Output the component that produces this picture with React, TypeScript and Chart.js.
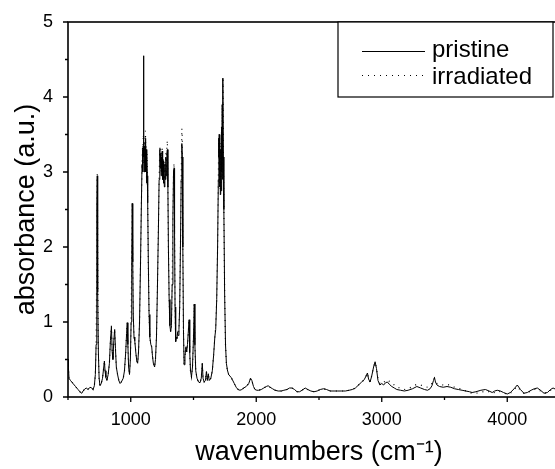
import React, { useEffect, useRef } from "react";
import { Chart, registerables } from "chart.js";

Chart.register(...registerables);

const wavenumbers = [
  500, 503, 508, 520, 540, 560, 580, 600, 610, 620,
  630, 645, 660, 675, 690, 700, 710, 718, 724, 728,
  731, 733, 735, 738, 742, 748, 755, 765, 775, 785,
  790, 795, 802, 810, 820, 830, 838, 846, 852, 858,
  865, 872, 878, 885, 895, 905, 915, 925, 940, 950,
  960, 967, 972, 977, 983, 990, 997, 1003, 1008, 1012,
  1016, 1020, 1026, 1032, 1040, 1048, 1055, 1062, 1070, 1078,
  1085, 1090, 1094, 1097, 1099, 1101, 1103, 1105, 1108, 1111,
  1114, 1117, 1120, 1123, 1126, 1129, 1132, 1135, 1140, 1146,
  1152, 1160, 1167, 1173, 1180, 1190, 1197, 1205, 1212, 1220,
  1226, 1230, 1233, 1236, 1239, 1242, 1245, 1248, 1251, 1254,
  1257, 1260, 1264, 1268, 1272, 1276, 1280, 1284, 1288, 1292,
  1296, 1300, 1306, 1312, 1318, 1324, 1330, 1336, 1341, 1345,
  1349, 1353, 1358, 1363, 1368, 1373, 1378, 1384, 1390, 1396,
  1402, 1407, 1411, 1415, 1420, 1425, 1432, 1440, 1446, 1452,
  1458, 1465, 1470, 1476, 1484, 1492, 1500, 1506, 1511, 1518,
  1528, 1540, 1552, 1562, 1570, 1576, 1585, 1595, 1603, 1610,
  1618, 1625, 1638, 1650, 1660, 1670, 1677, 1685, 1692, 1698,
  1701, 1703, 1705, 1708, 1711, 1714, 1717, 1720, 1723, 1726,
  1729, 1732, 1735, 1738, 1742, 1748, 1755, 1762, 1770, 1780,
  1790, 1800, 1810, 1825, 1840, 1855, 1870, 1885, 1900, 1920,
  1940, 1955, 1965, 1978, 1990, 2005, 2020, 2040, 2060, 2080,
  2095, 2110, 2130, 2150, 2175, 2200, 2220, 2245, 2265, 2285,
  2305, 2325, 2345, 2365, 2390, 2410, 2435, 2460, 2485, 2510,
  2535, 2560, 2590, 2620, 2650, 2680, 2710, 2740, 2765, 2790,
  2815, 2840, 2860, 2875, 2886, 2895, 2907, 2920, 2935, 2947,
  2958, 2970, 2985, 3000, 3015, 3030, 3045, 3060, 3080, 3100,
  3120, 3150, 3180, 3210, 3245, 3280, 3310, 3340, 3365, 3385,
  3400, 3412, 3420, 3428, 3440, 3460, 3490, 3520, 3550, 3580,
  3610, 3640, 3670, 3700, 3720, 3750, 3790, 3826, 3855, 3880,
  3900, 3920, 3945, 3970, 4000, 4025, 4055, 4080, 4105, 4133,
  4160, 4190, 4215, 4240, 4265, 4293, 4320, 4345, 4365, 4390,
  4420, 4450, 4480, 4500,
];

const pristine = [
  0.50, 0.40, 0.25, 0.22, 0.18, 0.14, 0.10, 0.06, 0.05, 0.08,
  0.10, 0.12, 0.10, 0.13, 0.12, 0.10, 0.15, 0.30, 0.70, 1.50,
  2.50, 2.95, 2.50, 1.40, 0.60, 0.25, 0.15, 0.18, 0.25, 0.40,
  0.48, 0.35, 0.26, 0.22, 0.30, 0.45, 0.75, 0.94, 0.60, 0.50,
  0.75, 0.90, 0.65, 0.40, 0.30, 0.22, 0.18, 0.20, 0.25, 0.35,
  0.60, 0.85, 0.99, 0.70, 0.40, 0.30, 0.50, 1.00, 1.90, 2.58,
  1.80, 1.10, 0.80, 0.75, 0.60, 0.48, 0.45, 0.60, 1.00, 1.80,
  2.60, 3.10, 3.30, 3.00, 3.35, 4.55, 3.20, 3.40, 3.00, 3.35,
  3.10, 3.45, 3.00, 3.30, 2.85, 3.20, 2.95, 2.60, 1.80, 1.10,
  0.80, 0.70, 0.67, 0.55, 0.45, 0.40, 0.50, 0.80, 1.40, 2.20,
  2.90, 3.20, 3.30, 3.05, 3.25, 2.95, 3.20, 3.00, 3.28, 2.90,
  3.15, 2.85, 3.05, 2.80, 3.10, 2.90, 3.20, 2.95, 3.25, 3.30,
  2.80, 2.00, 1.30, 0.95, 0.87, 0.95, 1.50, 2.40, 3.00, 3.05,
  2.20, 1.20, 0.74, 0.80, 0.78, 0.85, 0.82, 0.90, 1.20, 2.00,
  2.90, 3.38, 3.20, 2.00, 0.90, 0.43, 0.55, 0.67, 0.60, 0.70,
  0.85, 1.03, 0.60, 0.35, 0.27, 0.40, 0.80, 1.24, 0.70, 0.35,
  0.25, 0.20, 0.19, 0.25, 0.45, 0.25, 0.20, 0.22, 0.34, 0.22,
  0.31, 0.22, 0.25, 0.35, 0.55, 0.80, 0.90, 1.30, 2.00, 2.90,
  3.45, 3.20, 3.50, 2.80, 3.40, 2.70, 3.30, 2.75, 3.60, 3.00,
  3.90, 2.90, 4.25, 3.20, 2.50, 1.40, 0.70, 0.45, 0.36, 0.30,
  0.28, 0.26, 0.23, 0.18, 0.13, 0.10, 0.09, 0.10, 0.12, 0.14,
  0.18, 0.25, 0.22, 0.14, 0.10, 0.09, 0.09, 0.10, 0.12, 0.14,
  0.15, 0.13, 0.11, 0.09, 0.08, 0.08, 0.09, 0.10, 0.12, 0.12,
  0.10, 0.07, 0.07, 0.09, 0.12, 0.10, 0.08, 0.07, 0.08, 0.10,
  0.11, 0.10, 0.08, 0.08, 0.08, 0.08, 0.08, 0.09, 0.10, 0.12,
  0.16, 0.20, 0.23, 0.28, 0.32, 0.24, 0.20, 0.28, 0.40, 0.47,
  0.38, 0.22, 0.16, 0.18, 0.16, 0.19, 0.20, 0.17, 0.14, 0.12,
  0.10, 0.09, 0.08, 0.09, 0.11, 0.14, 0.12, 0.10, 0.09, 0.11,
  0.15, 0.22, 0.26, 0.20, 0.16, 0.14, 0.13, 0.14, 0.13, 0.11,
  0.10, 0.09, 0.08, 0.07, 0.06, 0.07, 0.09, 0.10, 0.08, 0.06,
  0.08, 0.09, 0.08, 0.06, 0.04, 0.06, 0.11, 0.16, 0.10, 0.05,
  0.06, 0.09, 0.11, 0.12, 0.09, 0.05, 0.06, 0.10, 0.12, 0.10,
  0.08, 0.07, 0.09, 0.10,
];

const irradiated = [
  0.50, 0.40, 0.25, 0.22, 0.18, 0.14, 0.10, 0.06, 0.05, 0.08,
  0.10, 0.12, 0.10, 0.13, 0.12, 0.10, 0.15, 0.30, 0.70, 1.50,
  2.50, 2.97, 2.50, 1.40, 0.60, 0.25, 0.15, 0.18, 0.25, 0.40,
  0.48, 0.35, 0.26, 0.22, 0.30, 0.45, 0.75, 0.95, 0.60, 0.50,
  0.75, 0.90, 0.65, 0.40, 0.30, 0.22, 0.18, 0.20, 0.25, 0.35,
  0.60, 0.85, 0.99, 0.70, 0.40, 0.30, 0.50, 1.00, 1.90, 2.60,
  1.80, 1.10, 0.80, 0.75, 0.60, 0.48, 0.45, 0.60, 1.00, 1.80,
  2.60, 3.10, 3.35, 3.10, 3.40, 3.50, 3.30, 3.45, 3.10, 3.40,
  3.20, 3.55, 3.10, 3.35, 2.90, 3.25, 3.00, 2.60, 1.80, 1.10,
  0.80, 0.70, 0.67, 0.55, 0.45, 0.40, 0.50, 0.80, 1.40, 2.20,
  2.90, 3.20, 3.35, 3.10, 3.30, 3.00, 3.25, 3.05, 3.32, 2.95,
  3.20, 2.90, 3.10, 2.85, 3.15, 2.95, 3.25, 3.00, 3.35, 3.42,
  2.80, 2.00, 1.30, 0.95, 0.87, 0.95, 1.50, 2.40, 3.00, 3.12,
  2.20, 1.20, 0.74, 0.80, 0.78, 0.85, 0.82, 0.90, 1.20, 2.00,
  2.90, 3.58, 3.46, 2.00, 0.90, 0.43, 0.55, 0.67, 0.60, 0.70,
  0.85, 1.03, 0.60, 0.35, 0.27, 0.40, 0.80, 1.24, 0.70, 0.35,
  0.25, 0.20, 0.19, 0.25, 0.45, 0.25, 0.20, 0.22, 0.34, 0.22,
  0.31, 0.22, 0.25, 0.35, 0.55, 0.80, 0.95, 1.30, 2.00, 2.90,
  3.45, 3.20, 3.50, 2.80, 3.40, 2.70, 3.30, 2.75, 3.60, 3.00,
  3.90, 2.90, 4.27, 3.20, 2.50, 1.40, 0.70, 0.45, 0.36, 0.30,
  0.28, 0.26, 0.23, 0.18, 0.13, 0.10, 0.09, 0.10, 0.12, 0.14,
  0.18, 0.25, 0.22, 0.14, 0.10, 0.09, 0.09, 0.10, 0.12, 0.14,
  0.15, 0.13, 0.11, 0.09, 0.08, 0.08, 0.09, 0.10, 0.12, 0.12,
  0.10, 0.07, 0.07, 0.09, 0.12, 0.10, 0.08, 0.07, 0.08, 0.10,
  0.11, 0.10, 0.08, 0.08, 0.08, 0.08, 0.08, 0.09, 0.10, 0.12,
  0.16, 0.20, 0.23, 0.28, 0.32, 0.24, 0.20, 0.28, 0.40, 0.46,
  0.38, 0.24, 0.18, 0.20, 0.19, 0.22, 0.23, 0.21, 0.18, 0.16,
  0.13, 0.12, 0.10, 0.11, 0.14, 0.17, 0.16, 0.14, 0.13, 0.15,
  0.18, 0.22, 0.25, 0.21, 0.18, 0.17, 0.16, 0.17, 0.15, 0.13,
  0.12, 0.10, 0.08, 0.06, 0.05, 0.05, 0.06, 0.08, 0.07, 0.05,
  0.06, 0.08, 0.07, 0.05, 0.04, 0.05, 0.10, 0.14, 0.09, 0.05,
  0.06, 0.08, 0.10, 0.11, 0.08, 0.05, 0.06, 0.09, 0.11, 0.10,
  0.08, 0.07, 0.08, 0.09,
];

const seriesLabels = ["pristine", "irradiated"];
const xTickValues = [1000, 2000, 3000, 4000];
const xMinorValues = [500, 1500, 2500, 3500, 4500];
const yTickValues = [0, 1, 2, 3, 4, 5];
const yMinorValues = [0.5, 1.5, 2.5, 3.5, 4.5];
const xTitle = "wavenumbers (cm\u207B\u00B9)";
const yTitle = "absorbance (a.u.)";

const FONT = "'Liberation Sans', Arial, Helvetica, sans-serif";

const framePlugin = {
  id: "frameAndLegend",
  afterDraw(chart: any) {
    const { ctx, chartArea } = chart;
    const { left, right, top, bottom } = chartArea;
    const xs = chart.scales.x;
    const ys = chart.scales.y;
    ctx.save();
    ctx.strokeStyle = "#000";
    ctx.setLineDash([]);
    ctx.lineWidth = 1.6;
    ctx.strokeRect(left, top, right - left, bottom - top);

    ctx.lineWidth = 1.3;
    ctx.beginPath();
    xTickValues.forEach((v) => {
      const p = xs.getPixelForValue(v);
      ctx.moveTo(p, bottom);
      ctx.lineTo(p, bottom + 5);
    });
    xMinorValues.forEach((v) => {
      const p = xs.getPixelForValue(v);
      ctx.moveTo(p, bottom);
      ctx.lineTo(p, bottom + 3);
    });
    yTickValues.forEach((v) => {
      const p = ys.getPixelForValue(v);
      ctx.moveTo(left, p);
      ctx.lineTo(left - 5, p);
    });
    yMinorValues.forEach((v) => {
      const p = ys.getPixelForValue(v);
      ctx.moveTo(left, p);
      ctx.lineTo(left - 3, p);
    });
    ctx.stroke();

    // legend box
    const bx = 338;
    const bw = 215;
    const bh = 75;
    ctx.fillStyle = "#fff";
    ctx.fillRect(bx, top, bw, bh);
    ctx.lineWidth = 1.2;
    ctx.strokeRect(bx, top, bw, bh);

    ctx.lineWidth = 1;
    ctx.beginPath();
    ctx.moveTo(362, top + 29.5);
    ctx.lineTo(425, top + 29.5);
    ctx.stroke();
    ctx.setLineDash([1, 5]);
    ctx.beginPath();
    ctx.moveTo(362, top + 53.5);
    ctx.lineTo(425, top + 53.5);
    ctx.stroke();
    ctx.setLineDash([]);

    ctx.fillStyle = "#000";
    ctx.font = `24px ${FONT}`;
    ctx.textBaseline = "middle";
    ctx.textAlign = "left";
    ctx.fillText(seriesLabels[0], 432, top + 28);
    ctx.fillText(seriesLabels[1], 432, top + 55);
    ctx.restore();
  },
};

export default function App() {
  const ref = useRef<HTMLCanvasElement>(null);

  useEffect(() => {
    if (!ref.current) return;
    const chart = new Chart(ref.current, {
      type: "line",
      data: {
        datasets: [
          {
            label: seriesLabels[0],
            data: wavenumbers.map((x, i) => ({ x, y: pristine[i] })),
            borderColor: "#000",
            borderWidth: 1,
            pointRadius: 0,
            tension: 0,
          },
          {
            label: seriesLabels[1],
            data: wavenumbers.map((x, i) => ({ x, y: irradiated[i] })),
            borderColor: "#000",
            borderWidth: 1.2,
            borderDash: [1, 5],
            pointRadius: 0,
            tension: 0,
          },
        ],
      },
      options: {
        responsive: false,
        animation: false,
        layout: { padding: { top: 22, right: 30, left: 0, bottom: 0 } },
        plugins: {
          legend: { display: false },
          tooltip: { enabled: false },
        },
        scales: {
          x: {
            type: "linear",
            min: 500,
            max: 4500,
            grid: { display: false },
            border: { display: false },
            afterBuildTicks: (s: any) => {
              s.ticks = xTickValues.map((v) => ({ value: v }));
            },
            afterFit: (s: any) => {
              s.height = 72;
            },
            ticks: {
              color: "#000",
              font: { family: FONT, size: 18 },
              padding: 4,
              maxRotation: 0,
              callback: (v: any) => String(v),
            },
            title: {
              display: true,
              text: xTitle,
              color: "#000",
              font: { family: FONT, size: 27 },
              padding: { top: 0, bottom: 0 },
            },
          },
          y: {
            type: "linear",
            min: 0,
            max: 5,
            grid: { display: false },
            border: { display: false },
            afterBuildTicks: (s: any) => {
              s.ticks = yTickValues.map((v) => ({ value: v }));
            },
            afterFit: (s: any) => {
              s.width = 68;
            },
            ticks: {
              color: "#000",
              font: { family: FONT, size: 18 },
              padding: 7,
              callback: (v: any) => String(v),
            },
            title: {
              display: true,
              text: yTitle,
              color: "#000",
              font: { family: FONT, size: 27 },
              padding: { top: 10, bottom: 0 },
            },
          },
        },
      },
      plugins: [framePlugin],
    });
    return () => chart.destroy();
  }, []);

  return (
    <div
      style={{
        position: "fixed",
        left: 0,
        top: 0,
        width: 555,
        height: 469,
        overflow: "hidden",
        background: "#fff",
      }}
    >
      <canvas ref={ref} width={600} height={469} style={{ display: "block" }} />
    </div>
  );
}
